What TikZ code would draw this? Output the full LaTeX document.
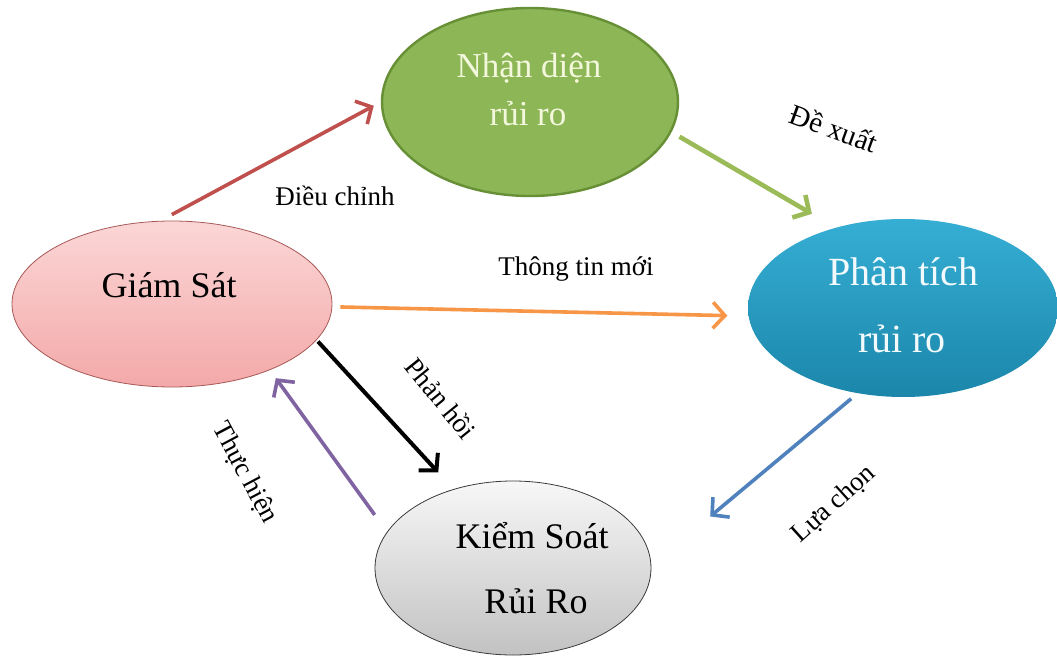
\documentclass[tikz,border=0pt]{standalone}
\usepackage{fontspec}
\setmainfont{Liberation Serif}
\usetikzlibrary{shapes.geometric,arrows.meta}
\definecolor{pinkT}{HTML}{FBD6D6}
\definecolor{pinkB}{HTML}{F4A9A9}
\definecolor{pinkD}{HTML}{A65A58}
\definecolor{grnF}{HTML}{8DB657}
\definecolor{grnD}{HTML}{678F36}
\definecolor{grnT}{HTML}{F3F8DC}
\definecolor{bluT}{HTML}{36AED4}
\definecolor{bluB}{HTML}{1B86AA}
\definecolor{bluTx}{HTML}{F2FAFD}
\definecolor{gryT}{HTML}{F7F7F7}
\definecolor{gryB}{HTML}{C2C2C2}
\definecolor{gryD}{HTML}{3A3A3A}
\definecolor{arRed}{HTML}{C0504D}
\definecolor{arGrn}{HTML}{9BBB59}
\definecolor{arOra}{HTML}{F79646}
\definecolor{arPur}{HTML}{8064A2}
\definecolor{arBlu}{HTML}{4F81BD}
\begin{document}
\begin{tikzpicture}[x=1pt,y=-1pt,
  ell/.style={ellipse, inner sep=0pt},
  bigtxt/.style={anchor=base, inner sep=0pt},
  lbl/.style={font=\fontsize{27}{30}\selectfont, text=black, inner sep=0pt},
  conn/.style={line width=3.6pt, -{Straight Barb[length=12pt,width=26pt]}},
]
\fill[white] (0,0) rectangle (1057,658);
\useasboundingbox (0,0) rectangle (1057,658);

% ellipses
\node[ell, minimum width=320pt, minimum height=166pt, top color=pinkT, bottom color=pinkB, draw=pinkD, line width=0.8pt] (gs) at (172,304) {};
\node[ell, minimum width=296pt, minimum height=188pt, fill=grnF, draw=grnD, line width=2.4pt] (nd) at (530,102) {};
\node[ell, minimum width=310pt, minimum height=178pt, top color=bluT, bottom color=bluB] (pa) at (903,308) {};
\node[ell, minimum width=276pt, minimum height=174pt, top color=gryT, bottom color=gryB, draw=gryD, line width=0.8pt] (ks) at (513,568) {};

% ellipse texts
\node[bigtxt, text=black, font=\fontsize{36}{40}\selectfont] (gs1) at (169,297) {Giám Sát};
\node[bigtxt, text=grnT, font=\fontsize{35}{40}\selectfont] (nd1) at (529,78) {Nhận diện};
\node[bigtxt, text=grnT, font=\fontsize{35}{40}\selectfont] (nd2) at (528,125) {rủi ro};
\node[bigtxt, text=bluTx, font=\fontsize{40}{44}\selectfont] (pa1) at (903,285) {Phân tích};
\node[bigtxt, text=bluTx, font=\fontsize{40}{44}\selectfont] (pa2) at (902,352) {rủi ro};
\node[bigtxt, text=black, font=\fontsize{36}{40}\selectfont] (ks1) at (532,548) {Kiểm Soát};
\node[bigtxt, text=black, font=\fontsize{36}{40}\selectfont] (ks2) at (536,613) {Rủi Ro};

% connectors
\draw[conn, draw=arRed, shorten <=13.1pt, shorten >=8pt] (gs.98) -- (nd.180.5);
\draw[conn, draw=arGrn, line width=4.6pt, shorten <=9.2pt, shorten >=27.4pt] (nd.-12.2) -- (pa.130.4);
\draw[conn, draw=arOra, shorten <=8.1pt, shorten >=21.1pt] (gs.-1) -- (pa.183.9);
\draw[conn, draw=black, line width=4pt, shorten <=2pt, shorten >=22.6pt] (gs.-14.3) -- (ks.127.3);
\draw[conn, draw=arPur, shorten <=21pt, shorten >=10pt] (ks.164) -- (gs.-34.2);
\draw[conn, draw=arBlu, shorten <=8.5pt, shorten >=76.7pt] (pa.242.8) -- (ks.1.8);

% labels
\node[lbl, anchor=base] (l1) at (335,205) {Điều chỉnh};
\node[lbl, anchor=base] (l2) at (576,275) {Thông tin mới};
\node[lbl, rotate=-20, font=\fontsize{29}{32}\selectfont] (l3) at (834,128) {Đề xuất};
\node[lbl, rotate=-51] (l4) at (441,398) {Phản hồi};
\node[lbl, rotate=-62] (l5) at (245,473) {Thực hiện};
\node[lbl, rotate=42] (l6) at (834,504) {Lựa chọn};
\end{tikzpicture}
\end{document}
